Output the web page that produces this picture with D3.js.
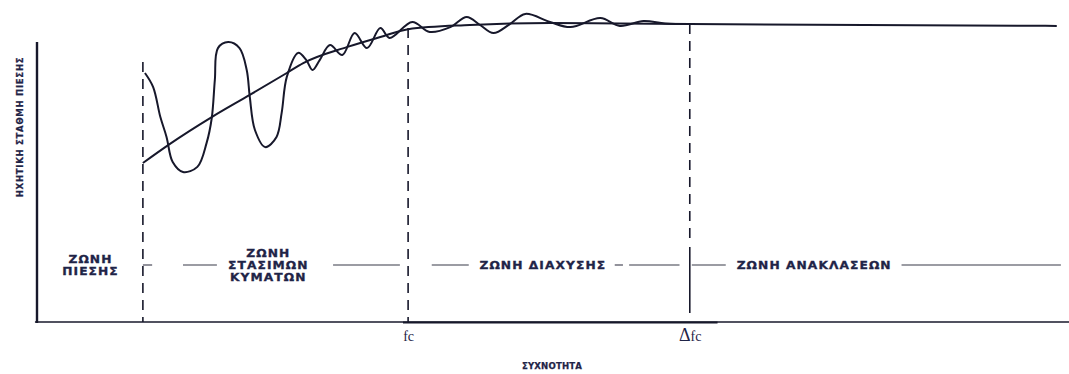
<!DOCTYPE html>
<html><head><meta charset="utf-8">
<script src="https://cdn.jsdelivr.net/npm/d3@7"></script>
<style>body{margin:0;background:#fff} svg{display:block}</style>
</head><body><svg id="c" width="1069" height="374"></svg>
<script>
// ---- data (relative frequency 0-100, relative level 0-100) ----
const meanFreq  = [10.3, 12.9, 17.0, 20.7, 24.3, 25.9, 30.2, 33.4, 36.1, 42.1, 49.9, 56.7, 63.5, 99.2];
const meanLevel = [53.0, 59.3, 68.3, 75.7, 83.0, 86.3, 91.7, 95.0, 97.6, 99.0, 99.7, 99.5, 99.3, 98.7];

const oscFreq  = [10.5, 11.3, 12.0, 12.6, 13.2, 14.2, 15.6, 16.5, 17.0, 17.3, 17.6, 18.6, 19.7, 20.4, 20.7, 21.2, 22.2, 23.3, 23.8, 24.3,
                  25.4, 26.2, 26.8, 27.5, 28.5, 29.7, 30.9, 32.1, 33.4, 34.3, 36.5, 38.2, 40.2, 41.8, 43.1, 44.4, 46.0, 47.5, 49.9, 51.9,
                  54.8, 56.7, 59.0, 61.1, 63.5];
const oscLevel = [83.0, 78.3, 68.3, 61.7, 53.3, 50.0, 51.7, 59.7, 68.0, 80.7, 91.3, 93.3, 91.3, 84.0, 75.0, 64.0, 58.3, 61.7, 69.7, 81.7,
                  89.7, 87.3, 84.0, 87.3, 92.3, 89.0, 96.3, 91.3, 98.0, 94.7, 100.0, 96.7, 98.3, 101.7, 99.0, 96.3, 99.3, 102.7, 100.0, 98.3,
                  101.3, 98.7, 100.3, 99.5, 99.3];

const boundaryFreq        = [10.3, 36.1, 63.5];
const boundaryTopLevel    = [86.7, 98.0, 99.3];
const boundarySolidFrom   = [null, null, 25.0];
const boundaryBottomLevel = [0, 0, 3];

const tickFreq   = [36.1, 63.5];
const tickLabels = ["fc", "Δfc"];

const zoneNames = [["ΖΩΝΗ", "ΠΙΕΣΗΣ"], ["ΖΩΝΗ", "ΣΤΑΣΙΜΩΝ", "ΚΥΜΑΤΩΝ"], ["ΖΩΝΗ ΔΙΑΧΥΣΗΣ"], ["ΖΩΝΗ ΑΝΑΚΛΑΣΕΩΝ"]];
const zoneLabelFreq = [5.2, 22.5, 49.2, 75.6];
const zoneRowLevel = 19;
const zoneGuides = [[10.3, 11.2], [14.2, 17.5], [28.8, 35.3], [38.4, 42.0], [56.2, 57.0], [57.6, 62.5], [63.7, 67.0], [84.1, 99.6]];

const yAxisTopLevel = 93.3;
const yTitle = "ΗΧΗΤΙΚΗ ΣΤΑΘΜΗ ΠΙΕΣΗΣ";
const xTitle = "ΣΥΧΝΟΤΗΤΑ";

// ---- drawing ----
const x = d3.scaleLinear().domain([0, 100]).range([37, 1065]);
const y = d3.scaleLinear().domain([0, 100]).range([322, 22]);
const svg = d3.select("#c");
const ink = "#17182b", textInk = "#1f2447";

// x axis
const xAxis = d3.axisBottom(x).tickValues(tickFreq).tickSize(0).tickSizeOuter(0).tickPadding(9)
  .tickFormat((d, i) => tickLabels[i]);
const gx = svg.append("g").attr("transform", `translate(0,${y(0)})`).call(xAxis);
gx.select(".domain").attr("stroke", ink).attr("stroke-width", 1.6).attr("d", `M${x(-0.2)},0H${x(100.4)}`);
gx.selectAll(".tick text").attr("font-family", "'Liberation Serif', serif").attr("font-size", 14).attr("fill", textInk)
  .each(function (d, i) {
    const t = d3.select(this), lab = tickLabels[i];
    t.text(null);
    if (lab.startsWith("Δ")) {
      t.append("tspan").attr("font-size", 18).text("Δ");
      t.append("tspan").text(lab.slice(1));
    } else t.text(lab);
  });
// thicker scanned segment of the baseline
svg.append("line").attr("x1", x(35.6)).attr("x2", x(66.2)).attr("y1", y(0) + 0.5).attr("y2", y(0) + 0.5)
  .attr("stroke", ink).attr("stroke-width", 2.2);

// y axis
svg.append("line").attr("x1", x(0)).attr("x2", x(0)).attr("y1", y(0) + 1).attr("y2", y(yAxisTopLevel))
  .attr("stroke", ink).attr("stroke-width", 2.4);

// axis titles
svg.append("text").attr("transform", `translate(23,${y(65)}) rotate(-90)`).attr("text-anchor", "middle")
  .attr("font-family", "'DejaVu Sans Condensed','DejaVu Sans',sans-serif").attr("font-weight", "bold")
  .attr("font-size", 9.5).attr("letter-spacing", 0.7).attr("fill", textInk)
  .attr("stroke", textInk).attr("stroke-width", 0.25).text(yTitle);
svg.append("text").attr("x", x(50.1)).attr("y", 369).attr("text-anchor", "middle")
  .attr("font-family", "'DejaVu Sans Condensed','DejaVu Sans',sans-serif").attr("font-weight", "bold")
  .attr("font-size", 9.5).attr("letter-spacing", 0.2).attr("fill", textInk)
  .attr("stroke", textInk).attr("stroke-width", 0.25).text(xTitle);

// zone boundaries
boundaryFreq.forEach((f, i) => {
  const solid = boundarySolidFrom[i];
  svg.append("line").attr("x1", x(f)).attr("x2", x(f))
    .attr("y1", y(boundaryTopLevel[i])).attr("y2", y(solid != null ? solid + 2 : boundaryBottomLevel[i]))
    .attr("stroke", ink).attr("stroke-width", 1.6).attr("stroke-dasharray", "10,7");
  if (solid != null) {
    svg.append("line").attr("x1", x(f)).attr("x2", x(f)).attr("y1", y(solid)).attr("y2", y(boundaryBottomLevel[i]))
      .attr("stroke", ink).attr("stroke-width", 1.6);
  }
});

// zone guides
zoneGuides.forEach(([a, b]) => {
  svg.append("line").attr("x1", x(a)).attr("x2", x(b)).attr("y1", y(zoneRowLevel)).attr("y2", y(zoneRowLevel))
    .attr("stroke", ink).attr("stroke-width", 1.1).attr("opacity", 0.85);
});

// zone labels (wide bold lettering)
zoneNames.forEach((lines, i) => {
  const lh = 12;
  const g = svg.append("g").attr("transform", `translate(${x(zoneLabelFreq[i])},${y(zoneRowLevel)}) scale(1.2,1)`);
  lines.forEach((ln, j) => {
    g.append("text").attr("text-anchor", "middle")
      .attr("font-family", "'DejaVu Sans',sans-serif").attr("font-weight", "bold")
      .attr("font-size", 10.2).attr("letter-spacing", 0.9).attr("fill", textInk)
      .attr("stroke", textInk).attr("stroke-width", 0.3)
      .attr("x", 0).attr("y", 4 + (j - (lines.length - 1) / 2) * lh).text(ln);
  });
});

// curves
const line = d3.line().x(d => x(d[0])).y(d => y(d[1]));
svg.append("path").datum(meanFreq.map((f, i) => [f, meanLevel[i]]))
  .attr("d", line.curve(d3.curveMonotoneX)).attr("fill", "none").attr("stroke", ink).attr("stroke-width", 2);
svg.append("path").datum(oscFreq.map((f, i) => [f, oscLevel[i]]))
  .attr("d", d3.line().x(d => x(d[0])).y(d => y(d[1])).curve(d3.curveCatmullRom.alpha(0.5)))
  .attr("fill", "none").attr("stroke", ink).attr("stroke-width", 2);
</script></body></html>
